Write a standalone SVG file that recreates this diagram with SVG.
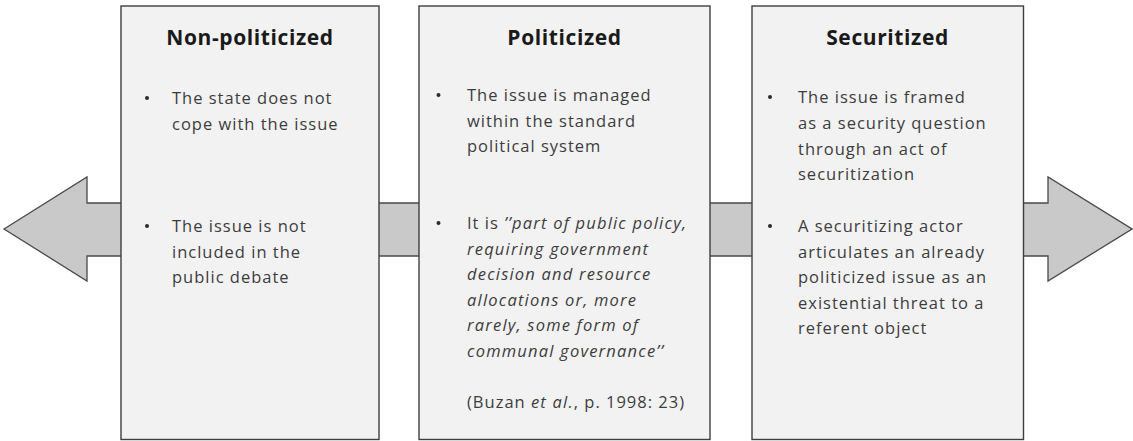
<svg xmlns="http://www.w3.org/2000/svg" width="1133" height="441" viewBox="0 0 1133 441">
  <style>
    .box { fill: #f2f2f2; stroke: #3f3f3f; stroke-width: 1.4; }
    .arrow { fill: #c9c9c9; stroke: #4a4a4a; stroke-width: 1.3; stroke-linejoin: miter; }
    .title { font-family: "Open Sans", Lato, "Liberation Sans", sans-serif; font-weight: bold; font-size: 21px; letter-spacing: 0.6px; fill: #1a1a1a; text-anchor: middle; }
    .body { font-family: "Open Sans", Lato, "Liberation Sans", sans-serif; font-size: 16.5px; letter-spacing: 1px; fill: #3d3d3d; }
    .it { font-style: italic; letter-spacing: 1.2px; }
    .dot { fill: #2a2a2a; }
  </style>
  <rect width="1133" height="441" fill="#ffffff"/>

  <!-- double-headed arrow running behind the three stages -->
  <g id="connectors">
    <polygon class="arrow" points="4,229 87,177 87,203 1048,203 1048,177 1132,229 1048,281 1048,256 87,256 87,281"/>
  </g>

  <g id="non-politicized">
    <rect class="box" x="121" y="6" width="258" height="433.5"/>
    <text class="title" x="250" y="45">Non-politicized</text>
    <circle class="dot" cx="147" cy="98" r="2"/>
    <text class="body" x="172" y="104">The state does not</text>
    <text class="body" x="172" y="129.5">cope with the issue</text>
    <circle class="dot" cx="147" cy="226" r="2"/>
    <text class="body" x="172" y="232">The issue is not</text>
    <text class="body" x="172" y="257.5">included in the</text>
    <text class="body" x="172" y="283">public debate</text>
  </g>

  <g id="politicized">
    <rect class="box" x="419" y="6" width="291" height="433.5"/>
    <text class="title" x="564.5" y="45">Politicized</text>
    <circle class="dot" cx="438.5" cy="95" r="2"/>
    <text class="body" x="467" y="101">The issue is managed</text>
    <text class="body" x="467" y="126.5">within the standard</text>
    <text class="body" x="467" y="152">political system</text>
    <circle class="dot" cx="438.5" cy="223" r="2"/>
    <text class="body" x="467" y="229">It is <tspan class="it">’’part of public policy,</tspan></text>
    <text class="body it" x="467" y="254.5">requiring government</text>
    <text class="body it" x="467" y="280">decision and resource</text>
    <text class="body it" x="467" y="305.5">allocations or, more</text>
    <text class="body it" x="467" y="331">rarely, some form of</text>
    <text class="body it" x="467" y="356.5">communal governance’’</text>
    <text class="body" x="467" y="408">(Buzan <tspan class="it">et al.</tspan>, p. 1998: 23)</text>
  </g>

  <g id="securitized">
    <rect class="box" x="752" y="6" width="271.5" height="433.5"/>
    <text class="title" x="887.5" y="45">Securitized</text>
    <circle class="dot" cx="770" cy="97" r="2"/>
    <text class="body" x="798" y="103">The issue is framed</text>
    <text class="body" x="798" y="129">as a security question</text>
    <text class="body" x="798" y="154.5">through an act of</text>
    <text class="body" x="798" y="180">securitization</text>
    <circle class="dot" cx="770" cy="226" r="2"/>
    <text class="body" x="798" y="232">A securitizing actor</text>
    <text class="body" x="798" y="257.5">articulates an already</text>
    <text class="body" x="798" y="283">politicized issue as an</text>
    <text class="body" x="798" y="308.5">existential threat to a</text>
    <text class="body" x="798" y="334">referent object</text>
  </g>
</svg>
